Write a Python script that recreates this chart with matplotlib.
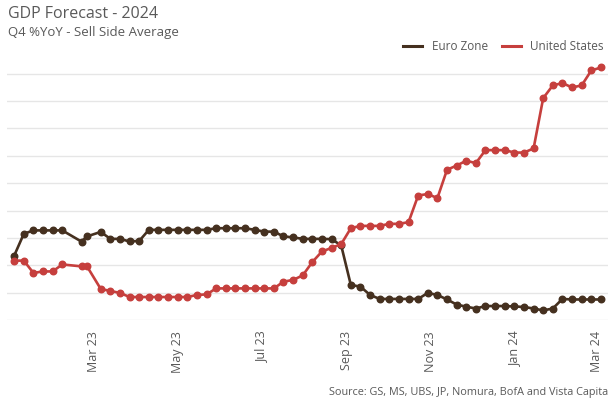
import matplotlib.pyplot as plt
import matplotlib.dates as mdates
import pandas as pd
import numpy as np

plt.rcParams['font.family'] = ['Open Sans', 'DejaVu Sans']

# survey dates (weekly, with a couple of irregular early ones)
dates = (list(pd.date_range('2023-01-02', '2023-02-06', freq='7D'))
         + [pd.Timestamp('2023-02-20'), pd.Timestamp('2023-02-24')]
         + list(pd.date_range('2023-03-06', '2024-03-04', freq='7D')))

euro_zone = [0.47, 0.63, 0.655, 0.655, 0.655, 0.655, 0.573, 0.611,
             0.644, 0.593, 0.593, 0.574, 0.578,
             0.659, 0.659, 0.659, 0.659, 0.659, 0.659, 0.659,
             0.671, 0.671, 0.671, 0.671, 0.659, 0.646, 0.646,
             0.611, 0.604, 0.593, 0.593, 0.593, 0.591, 0.545,
             0.256, 0.244, 0.183, 0.154, 0.154, 0.154, 0.154, 0.154,
             0.198, 0.183, 0.150, 0.113, 0.097, 0.084,
             0.102, 0.102, 0.102, 0.099, 0.095, 0.084, 0.070, 0.084,
             0.154, 0.150, 0.150, 0.150, 0.150]

united_states = [0.434, 0.434, 0.344, 0.355, 0.355, 0.406, 0.392, 0.392,
                 0.227, 0.212, 0.198,
                 0.168, 0.168, 0.168, 0.168, 0.168, 0.168, 0.168,
                 0.183, 0.187,
                 0.231, 0.231, 0.231, 0.231, 0.231, 0.231, 0.231,
                 0.280, 0.293, 0.326, 0.424, 0.501, 0.527, 0.555,
                 0.671, 0.688, 0.688, 0.688, 0.703, 0.703, 0.715,
                 0.910, 0.921, 0.891, 1.098, 1.129, 1.164, 1.147,
                 1.242, 1.242, 1.242, 1.224, 1.224, 1.254,
                 1.622, 1.715, 1.732, 1.700, 1.715, 1.824, 1.846]

euro_color = '#45301f'
us_color = '#c63f3d'
text_color = '#595959'

fig = plt.figure(figsize=(6.09, 3.98), dpi=100)
ax = fig.add_axes([0.012, 0.196, 0.986, 0.653])

ax.plot(dates, euro_zone, '-o', color=euro_color, lw=1.9, ms=4.7, label='Euro Zone')
ax.plot(dates, united_states, '-o', color=us_color, lw=1.9, ms=4.7, label='United States')

ax.set_ylim(0, 1.9)
ax.set_yticks(np.arange(0, 1.81, 0.2))
ax.set_xlim(pd.Timestamp('2022-12-28'), pd.Timestamp('2024-03-09'))
ax.grid(axis='y', color='#e6e6e6', lw=1)
ax.set_axisbelow(True)
for s in ax.spines.values():
    s.set_visible(False)
ax.tick_params(axis='y', left=False, labelleft=False)

ticks = pd.date_range('2023-03-01', '2024-03-01', freq='2MS')
ax.set_xticks(ticks)
ax.xaxis.set_major_formatter(mdates.DateFormatter('%b %y'))
ax.tick_params(axis='x', length=0, pad=8, labelsize=9, labelcolor=text_color)
plt.setp(ax.get_xticklabels(), rotation=90, va='top', ha='center')

fig.text(0.013, 0.985, 'GDP Forecast - 2024', fontsize=11.5, color=text_color, va='top')
fig.text(0.013, 0.935, 'Q4 %YoY - Sell Side Average', fontsize=9.5, color=text_color, va='top')

ax.legend(loc='lower right', bbox_to_anchor=(1.005, 1.0), ncol=2, frameon=False,
          fontsize=8.5, labelcolor=text_color, handlelength=1.6, columnspacing=1.2,
          borderaxespad=0.2, handletextpad=0.8)
for h in ax.get_legend().get_lines():
    h.set_marker('')
    h.set_linewidth(2.2)

fig.text(0.999, 0.0, 'Source: GS, MS, UBS, JP, Nomura, BofA and Vista Capita',
         fontsize=7.8, color=text_color, ha='right', va='bottom')

fig.savefig('out.png', dpi=100, facecolor='white')
